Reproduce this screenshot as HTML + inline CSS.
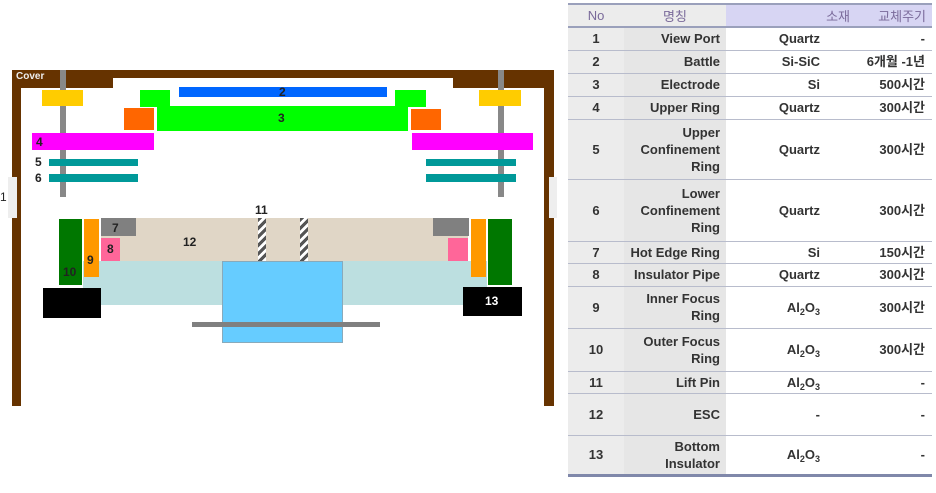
<!DOCTYPE html>
<html><head><meta charset="utf-8"><style>
body{margin:0;width:936px;height:493px;background:#fff;position:relative;overflow:hidden;font-family:"Liberation Sans","Noto Sans CJK KR",sans-serif;}
.r{position:absolute;}
.l{position:absolute;font-weight:bold;font-size:12px;color:#222;line-height:1;}
table{position:absolute;left:568px;top:3px;width:364px;border-collapse:collapse;font-size:13px;font-weight:bold;color:#333;}
td{border-bottom:1px solid #b8bccc;padding:0 6px;line-height:17px;}
tr td:nth-child(1){text-align:center;width:44px;background:#ececec;}
tr td:nth-child(2){text-align:right;width:90px;background:#e6e6e6;}
tr td:nth-child(3){text-align:right;width:88px;padding-right:36px;}
tr td:nth-child(4){text-align:right;padding-right:7px;}
th{height:21px;font-weight:normal;color:#7a6a9a;border-top:2px solid #9aa0bb;border-bottom:2px solid #9aa0bb;background:#ececec;padding:0 6px;}
th.v{background:#d7d5f3;text-align:right;}
tr.last td{border-bottom:3px solid #8088aa;}
sub{font-size:9px;line-height:0;vertical-align:-3px;}
</style></head><body>
<div class="r" style="left:12px;top:70px;width:9px;height:336px;background:#663300"></div>
<div class="r" style="left:544px;top:70px;width:10px;height:336px;background:#663300"></div>
<div class="r" style="left:12px;top:70px;width:542px;height:8px;background:#663300"></div>
<div class="r" style="left:12px;top:70px;width:101px;height:18px;background:#663300"></div>
<div class="r" style="left:453px;top:70px;width:101px;height:18px;background:#663300"></div>
<div class="l" style="left:16px;top:72px;color:#eee;font-size:10px">Cover</div>
<div class="r" style="left:8px;top:177px;width:9px;height:41px;background:#eee"></div>
<div class="r" style="left:549px;top:177px;width:8px;height:41px;background:#eee"></div>
<div class="l" style="left:0;top:191px;font-weight:normal">1</div>
<div class="r" style="left:60px;top:70px;width:6px;height:127px;background:#888"></div>
<div class="r" style="left:498px;top:70px;width:6px;height:127px;background:#888"></div>
<div class="r" style="left:42px;top:90px;width:41px;height:16px;background:#ffcc00"></div>
<div class="r" style="left:479px;top:90px;width:42px;height:16px;background:#ffcc00"></div>
<div class="r" style="left:179px;top:87px;width:208px;height:10px;background:#0066ff"></div>
<div class="l" style="left:279px;top:86px">2</div>
<div class="r" style="left:140px;top:90px;width:30px;height:17px;background:#00ff00"></div>
<div class="r" style="left:395px;top:90px;width:31px;height:17px;background:#00ff00"></div>
<div class="r" style="left:157px;top:106px;width:251px;height:25px;background:#00ff00"></div>
<div class="l" style="left:278px;top:112px">3</div>
<div class="r" style="left:124px;top:108px;width:30px;height:22px;background:#ff6600"></div>
<div class="r" style="left:411px;top:109px;width:30px;height:21px;background:#ff6600"></div>
<div class="r" style="left:32px;top:133px;width:122px;height:17px;background:#ff00ff"></div>
<div class="r" style="left:412px;top:133px;width:121px;height:17px;background:#ff00ff"></div>
<div class="l" style="left:36px;top:136px">4</div>
<div class="r" style="left:49px;top:159px;width:89px;height:7px;background:#009999"></div>
<div class="r" style="left:49px;top:174px;width:89px;height:8px;background:#009999"></div>
<div class="r" style="left:426px;top:159px;width:90px;height:7px;background:#009999"></div>
<div class="r" style="left:426px;top:174px;width:90px;height:8px;background:#009999"></div>
<div class="l" style="left:35px;top:156px">5</div>
<div class="l" style="left:35px;top:172px">6</div>
<div class="r" style="left:83px;top:261px;width:404px;height:44px;background:#bcdfe0"></div>
<div class="r" style="left:101px;top:218px;width:367px;height:43px;background:#e0d6c6"></div>
<div class="r" style="left:258px;top:218px;width:8px;height:43px;background:repeating-linear-gradient(135deg,#555 0 3px,#fff 3px 6px)"></div>
<div class="r" style="left:300px;top:218px;width:8px;height:43px;background:repeating-linear-gradient(135deg,#555 0 3px,#fff 3px 6px)"></div>
<div class="l" style="left:255px;top:204px">11</div>
<div class="l" style="left:183px;top:236px">12</div>
<div class="r" style="left:101px;top:218px;width:35px;height:18px;background:#808080"></div>
<div class="r" style="left:433px;top:218px;width:36px;height:18px;background:#808080"></div>
<div class="l" style="left:112px;top:222px">7</div>
<div class="r" style="left:101px;top:238px;width:19px;height:23px;background:#ff6699"></div>
<div class="r" style="left:448px;top:238px;width:20px;height:23px;background:#ff6699"></div>
<div class="l" style="left:107px;top:243px">8</div>
<div class="r" style="left:84px;top:219px;width:15px;height:58px;background:#ff9900"></div>
<div class="r" style="left:471px;top:219px;width:15px;height:58px;background:#ff9900"></div>
<div class="l" style="left:87px;top:254px">9</div>
<div class="r" style="left:59px;top:219px;width:23px;height:66px;background:#007700"></div>
<div class="r" style="left:488px;top:219px;width:24px;height:66px;background:#007700"></div>
<div class="l" style="left:63px;top:266px">10</div>
<div class="r" style="left:43px;top:288px;width:58px;height:30px;background:#000"></div>
<div class="r" style="left:463px;top:287px;width:59px;height:29px;background:#000"></div>
<div class="l" style="left:485px;top:295px;color:#fff">13</div>
<div class="r" style="left:222px;top:261px;width:121px;height:82px;background:#66ccff;box-sizing:border-box;border:1px solid #8ab"></div>
<div class="r" style="left:192px;top:322px;width:188px;height:5px;background:#808080"></div>
<table>
<tr><th>No</th><th>명칭</th><th class="v">소재</th><th class="v">교체주기</th></tr>
<tr style="height:23px"><td>1</td><td>View Port</td><td>Quartz</td><td>-</td></tr>
<tr style="height:23px"><td>2</td><td>Battle</td><td>Si-SiC</td><td>6개월 -1년</td></tr>
<tr style="height:23px"><td>3</td><td>Electrode</td><td>Si</td><td>500시간</td></tr>
<tr style="height:23px"><td>4</td><td>Upper Ring</td><td>Quartz</td><td>300시간</td></tr>
<tr style="height:60px"><td>5</td><td>Upper Confinement Ring</td><td>Quartz</td><td>300시간</td></tr>
<tr style="height:62px"><td>6</td><td>Lower Confinement Ring</td><td>Quartz</td><td>300시간</td></tr>
<tr style="height:22px"><td>7</td><td>Hot Edge Ring</td><td>Si</td><td>150시간</td></tr>
<tr style="height:23px"><td>8</td><td>Insulator Pipe</td><td>Quartz</td><td>300시간</td></tr>
<tr style="height:42px"><td>9</td><td>Inner Focus Ring</td><td>Al<sub>2</sub>O<sub>3</sub></td><td>300시간</td></tr>
<tr style="height:43px"><td>10</td><td>Outer Focus Ring</td><td>Al<sub>2</sub>O<sub>3</sub></td><td>300시간</td></tr>
<tr style="height:22px"><td>11</td><td>Lift Pin</td><td>Al<sub>2</sub>O<sub>3</sub></td><td>-</td></tr>
<tr style="height:42px"><td>12</td><td>ESC</td><td>-</td><td>-</td></tr>
<tr class="last" style="height:40px"><td>13</td><td>Bottom Insulator</td><td>Al<sub>2</sub>O<sub>3</sub></td><td>-</td></tr>
</table>
</body></html>
